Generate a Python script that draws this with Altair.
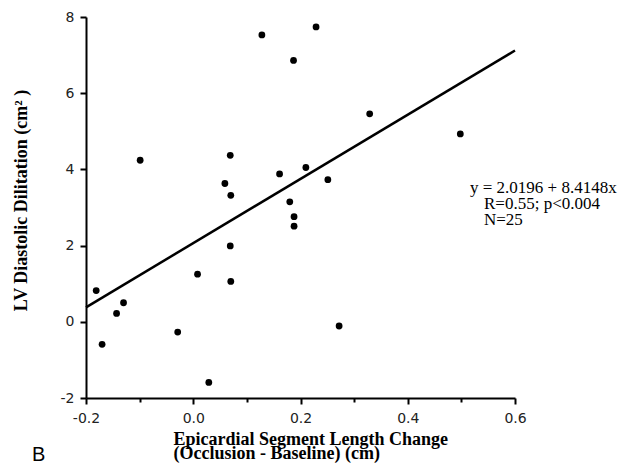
import altair as alt
import pandas as pd

# ---- data ----
seg_change = [0.128, 0.229, 0.187, -0.099, 0.069, 0.059, 0.070, 0.161, 0.210, 0.180,
              0.188, 0.188, 0.329, 0.498, 0.251, 0.069, 0.008, 0.070, -0.181, -0.130,
              -0.143, -0.170, -0.029, 0.029, 0.272]
lv_dilation = [7.53, 7.74, 6.86, 4.24, 4.37, 3.63, 3.32, 3.88, 4.05, 3.15,
               2.76, 2.51, 5.46, 4.93, 3.73, 1.99, 1.25, 1.06, 0.82, 0.50,
               0.22, -0.59, -0.27, -1.59, -0.11]
fit_x = [-0.2, 0.6]
fit_y = [0.38, 7.12]
x_ticks = [-0.2, -0.1, 0.0, 0.1, 0.2, 0.3, 0.4, 0.5, 0.6]
y_ticks = [-2, -1, 0, 1, 2, 3, 4, 5, 6, 7, 8]
eq_text = "y = 2.0196 + 8.4148x"
stat_lines = ["R=0.55; p<0.004", "N=25"]
panel_label = "B"
x_title = ["Epicardial Segment Length Change", "(Occlusion - Baseline)   (cm)"]
y_title = "LV Diastolic Dilitation (cm\u00b2 )"

pts = pd.DataFrame({"x": seg_change, "y": lv_dilation})
fit = pd.DataFrame({"x": fit_x, "y": fit_y})

xscale = alt.Scale(domain=[-0.2, 0.6], nice=False, zero=False)
yscale = alt.Scale(domain=[-2, 8], nice=False, zero=False)

x_minor = "abs(round(datum.value*10)) % 2 == 1"
y_minor = "abs(round(datum.value)) % 2 == 1"

xaxis = alt.Axis(
    values=x_ticks,
    labelExpr=f"{x_minor} ? '' : (datum.value < 0 ? '-' : '') + format(abs(datum.value), '.1f')",
    tickSize={"condition": {"test": x_minor, "value": 4}, "value": 6},
    labelPadding=7,
    labelFlush=False,
    labelOverlap=False,
    grid=False,
    title=x_title,
    titleAlign="left",
    titleAnchor="start",
    titleX=87,
    titleY=32,
    titleBaseline="top",
    titleLineHeight=14,
)
yaxis = alt.Axis(
    values=y_ticks,
    labelExpr=f"{y_minor} ? '' : (datum.value < 0 ? '-' : '') + format(abs(datum.value), 'd')",
    tickSize={"condition": {"test": y_minor, "value": 4}, "value": 6},
    labelPadding=6,
    labelOverlap=False,
    grid=False,
    title=y_title,
    titleAngle=-90,
    titleAlign="center",
    titleBaseline="alphabetic",
    titleX=-60,
    titleY=183,
)

base = alt.Chart(pts)
points = base.mark_circle(size=46, color="black", opacity=1).encode(
    x=alt.X("x:Q", scale=xscale, axis=xaxis),
    y=alt.Y("y:Q", scale=yscale, axis=yaxis),
)
line = alt.Chart(fit).mark_line(color="black", strokeWidth=2.5).encode(
    x=alt.X("x:Q", scale=xscale),
    y=alt.Y("y:Q", scale=yscale),
)

one = alt.Data(values=[{}])
eq = alt.Chart(one).mark_text(
    align="left", baseline="alphabetic", font="Liberation Serif", fontSize=17, color="black"
).encode(x=alt.value(384), y=alt.value(176), text=alt.value(eq_text))
stats = alt.Chart(one).mark_text(
    align="left", baseline="alphabetic", font="Liberation Serif", fontSize=17,
    color="black", lineHeight=16.5
).encode(x=alt.value(398), y=alt.value(191.5), text=alt.value(stat_lines))
blabel = alt.Chart(one).mark_text(
    align="left", baseline="alphabetic", font="Liberation Sans", fontSize=20, color="black"
).encode(x=alt.value(-54), y=alt.value(444), text=alt.value(panel_label))

chart = alt.layer(line, points, eq, stats, blabel).properties(
    width=429,
    height=381,
    autosize=alt.AutoSizeParams(type="none"),
    padding={"left": 78, "top": 9, "right": 104, "bottom": 66},
    background="white",
).configure_view(stroke=None).configure_axis(
    labelFont="DejaVu Sans",
    labelFontSize=14,
    labelColor="#222222",
    domainColor="black",
    domainWidth=2,
    tickColor="black",
    tickWidth=2,
    titleFont="Liberation Serif",
    titleFontSize=18,
    titleFontWeight="bold",
    titleColor="black",
)

chart.save("out.html", embed_options={"renderer": "svg", "actions": False})
